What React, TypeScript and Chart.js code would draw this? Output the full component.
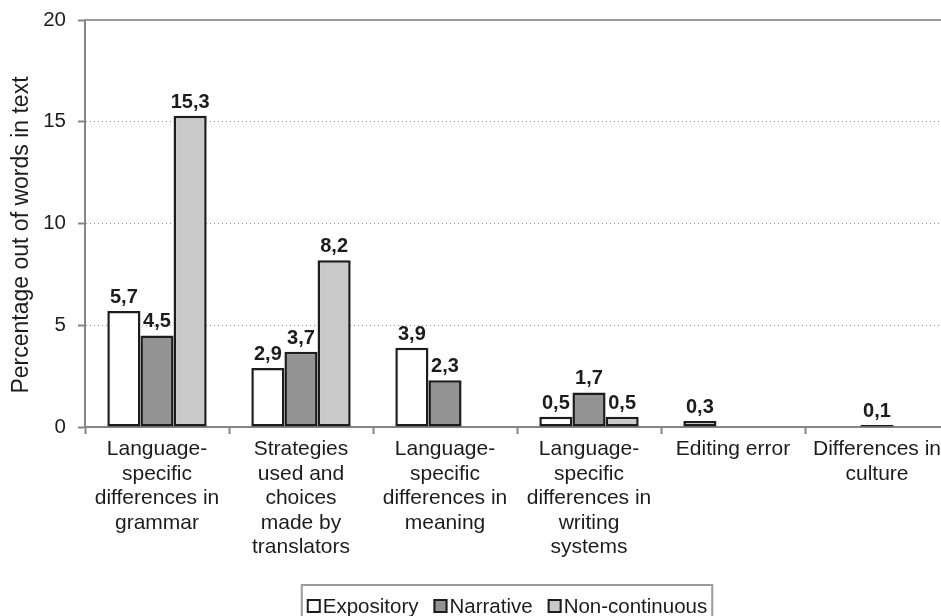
import { useEffect, useRef } from "react";
import { Chart, registerables } from "chart.js";

Chart.register(...registerables);

const categories: string[][] = [
  ["Language-", "specific", "differences in", "grammar"],
  ["Strategies", "used and", "choices", "made by", "translators"],
  ["Language-", "specific", "differences in", "meaning"],
  ["Language-", "specific", "differences in", "writing", "systems"],
  ["Editing error"],
  ["Differences in", "culture"],
];
const seriesNames = ["Expository", "Narrative", "Non-continuous"];
const expository: (number | null)[] = [5.7, 2.9, 3.9, 0.5, 0.3, null];
const narrative: (number | null)[] = [4.5, 3.7, 2.3, 1.7, null, 0.1];
const nonContinuous: (number | null)[] = [15.3, 8.2, null, 0.5, null, null];
const seriesColors = ["#ffffff", "#939393", "#c9c9c9"];
const yMin = 0;
const yMax = 20;
const yStep = 5;
const yTitle = "Percentage out of words in text";

const FONT = "'Liberation Sans', Arial, sans-serif";
const TEXT = "#1c1c1c";
const AXIS = "#858585";

const fmt = (v: number) => v.toFixed(1).replace(".", ",");

const labelPlugin = {
  id: "barLabels",
  afterDatasetsDraw(chart: any) {
    const ctx = chart.ctx;
    ctx.save();
    ctx.font = `bold 20px ${FONT}`;
    ctx.fillStyle = TEXT;
    ctx.textAlign = "center";
    ctx.textBaseline = "alphabetic";
    chart.data.datasets.forEach((ds: any, i: number) => {
      const meta = chart.getDatasetMeta(i);
      meta.data.forEach((el: any, j: number) => {
        const v = ds.data[j];
        if (v === null || v === undefined) return;
        ctx.fillText(fmt(v), el.x, el.y - 8);
      });
    });
    ctx.restore();
  },
};

const framePlugin = {
  id: "frame",
  beforeDatasetsDraw(chart: any) {
    const { ctx, chartArea } = chart;
    ctx.save();
    ctx.strokeStyle = "#9a9a9a";
    ctx.lineWidth = 2;
    ctx.beginPath();
    ctx.moveTo(chartArea.left, chartArea.top);
    ctx.lineTo(chartArea.right, chartArea.top);
    ctx.stroke();
    ctx.restore();
  },
  afterDraw(chart: any) {
    const { ctx, chartArea } = chart;
    // y title
    ctx.save();
    ctx.font = `23px ${FONT}`;
    ctx.fillStyle = TEXT;
    ctx.textAlign = "center";
    ctx.textBaseline = "middle";
    ctx.translate(22, 235);
    ctx.rotate(-Math.PI / 2);
    ctx.fillText(yTitle, 0, 0);
    ctx.restore();

    // legend
    ctx.save();
    ctx.font = `20.5px ${FONT}`;
    const box = 14;
    const boxGap = 2;
    const itemGap = 15;
    const widths = chart.data.datasets.map(
      (ds: any) => box + boxGap + ctx.measureText(ds.label).width
    );
    const total =
      widths.reduce((a: number, b: number) => a + b, 0) +
      itemGap * (widths.length - 1);
    const cx = (chartArea.left + chartArea.right) / 2 - 10;
    let x = cx - total / 2;
    const baseline = 613;
    ctx.strokeStyle = "#9a9a9a";
    ctx.lineWidth = 2;
    ctx.strokeRect(x - 5, 585, total + 10, 60);
    chart.data.datasets.forEach((ds: any, i: number) => {
      ctx.fillStyle = ds.backgroundColor;
      ctx.fillRect(x, baseline - box, box, box);
      ctx.strokeStyle = TEXT;
      ctx.lineWidth = 2;
      ctx.strokeRect(x + 1, baseline - box + 1, box - 2, box - 2);
      ctx.fillStyle = TEXT;
      ctx.textAlign = "left";
      ctx.textBaseline = "alphabetic";
      ctx.fillText(ds.label, x + box + boxGap, baseline);
      x += widths[i] + itemGap;
    });
    ctx.restore();
  },
};

export default function App() {
  const ref = useRef<HTMLCanvasElement | null>(null);
  useEffect(() => {
    if (!ref.current) return;
    const seriesData = [expository, narrative, nonContinuous];
    const chart = new Chart(ref.current, {
      type: "bar",
      data: {
        labels: categories,
        datasets: seriesNames.map((name, i) => ({
          label: name,
          data: seriesData[i],
          backgroundColor: seriesColors[i],
          borderColor: TEXT,
          borderWidth: 2.5,
          borderSkipped: false,
          categoryPercentage: 0.69,
          barPercentage: 1,
        })),
      },
      options: {
        animation: false,
        responsive: false,
        devicePixelRatio: 1,
        layout: { padding: { top: 20, left: 0, right: 0, bottom: 0 } },
        plugins: {
          legend: { display: false },
          tooltip: { enabled: false },
        },
        scales: {
          x: {
            offset: true,
            grid: {
              offset: true,
              drawOnChartArea: false,
              tickLength: 7,
              tickColor: AXIS,
              tickWidth: 2,
            },
            border: { color: AXIS, width: 2 },
            ticks: {
              color: TEXT,
              font: { family: FONT, size: 21, lineHeight: 1.167 },
              padding: 3,
              maxRotation: 0,
              autoSkip: false,
            },
            afterFit: (s: any) => {
              s.height = 189;
            },
          },
          y: {
            min: yMin,
            max: yMax,
            ticks: {
              stepSize: yStep,
              color: TEXT,
              font: { family: FONT, size: 20.5, lineHeight: 0.5 },
              padding: 12,
            },
            grid: {
              color: (c: any) =>
                c.tick && (c.tick.value === yMin || c.tick.value === yMax)
                  ? "rgba(0,0,0,0)"
                  : "#8f8f8f",
              lineWidth: 1,
              tickLength: 7,
              tickColor: AXIS,
              tickWidth: 2,
            },
            border: { color: AXIS, width: 2, dash: [1, 3] },
            afterFit: (s: any) => {
              s.width = 85;
            },
          },
        },
      },
      plugins: [labelPlugin, framePlugin],
    });
    return () => chart.destroy();
  }, []);
  return (
    <div
      style={{
        position: "fixed",
        left: 0,
        top: 0,
        width: 941,
        height: 616,
        overflow: "hidden",
        background: "#fff",
      }}
    >
      <canvas ref={ref} width={949} height={616} />
    </div>
  );
}
